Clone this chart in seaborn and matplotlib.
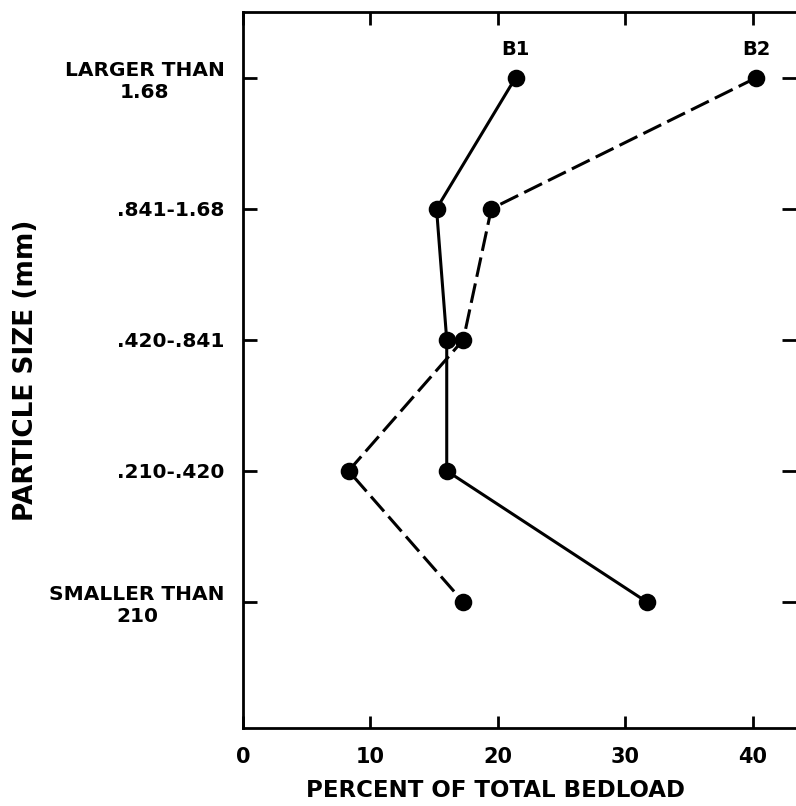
import matplotlib
matplotlib.use("Agg")
import matplotlib.pyplot as plt
import seaborn as sns
import pandas as pd

categories = ["LARGER THAN\n1.68", ".841-1.68", ".420-.841", ".210-.420", "SMALLER THAN\n210"]
b1_values = [21.4, 15.2, 16.0, 16.0, 31.7]
b2_values = [40.3, 19.5, 17.3, 8.3, 17.3]
series_names = ["B1", "B2"]
x_ticks = [0, 10, 20, 30, 40]

df = pd.DataFrame({
    "size": categories * 2,
    "percent": b1_values + b2_values,
    "series": [series_names[0]] * len(categories) + [series_names[1]] * len(categories),
})

sns.set_theme(style="white")
plt.rcParams["font.family"] = ["DejaVu Sans"]
plt.rcParams["text.color"] = "black"

fig = plt.figure(figsize=(7.96, 8.06), dpi=100)
ax = fig.add_axes([0.305, 0.097, 0.695, 0.888])

sns.pointplot(data=df, x="percent", y="size", hue="series", order=categories,
              palette=["black", "black"], markers=["o", "o"], linestyles=["-", "--"],
              orient="h", ax=ax, legend=False, markersize=11, linewidth=2.2)

for line in ax.lines:
    if line.get_linestyle() == "--":
        line.set_dashes((6.5, 2.2))

ax.set_xlim(0, 43.4)
ax.set_ylim(4.96, -0.5)
ax.set_xticks(x_ticks)
ax.set_xticklabels([str(t) for t in x_ticks], fontsize=15, fontweight="bold", color="black")
ax.set_yticks(range(len(categories)))
ax.set_yticklabels(categories, fontsize=14.5, fontweight="bold", multialignment="center", color="black")
ax.tick_params(axis="x", direction="in", length=9, width=2, top=True, bottom=True, pad=14, colors="black")
ax.tick_params(axis="y", direction="in", length=10, width=2, left=True, right=True, pad=13, colors="black")
for s in ["left", "top", "bottom", "right"]:
    ax.spines[s].set_color("black")
    ax.spines[s].set_linewidth(2)
ax.spines["right"].set_visible(False)

ax.set_xlabel("PERCENT OF TOTAL BEDLOAD", fontsize=16.5, fontweight="bold", color="black")
ax.xaxis.set_label_coords(0.456, -0.071)
ax.set_ylabel("PARTICLE SIZE (mm)", fontsize=19, fontweight="bold", color="black")
ax.yaxis.set_label_coords(-0.369, 0.5)

ax.text(b1_values[0], -0.14, series_names[0], ha="center", va="bottom", fontsize=14, fontweight="bold",
        color="black")
ax.text(b2_values[0], -0.14, series_names[1], ha="center", va="bottom", fontsize=14, fontweight="bold",
        color="black")

fig.savefig("out.png", dpi=100)
